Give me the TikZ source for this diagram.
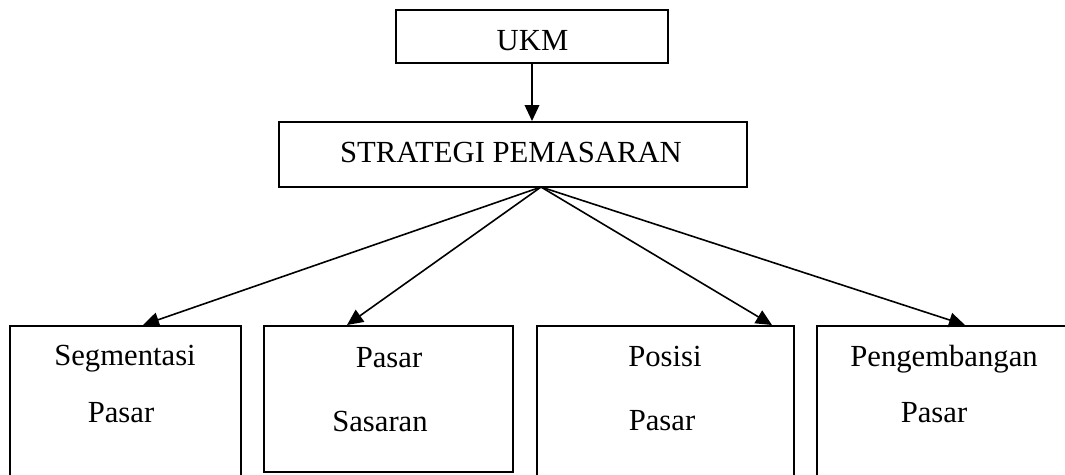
\documentclass[tikz,border=0pt]{standalone}
\usepackage{fontspec}
\setmainfont{Liberation Serif}
\usetikzlibrary{arrows.meta,fit}
\begin{document}
\begin{tikzpicture}[x=0.375pt,y=-0.375pt,
  box/.style={draw,line width=0.75pt,inner sep=0pt},
  lbl/.style={anchor=base,inner sep=0pt,font=\fontsize{11.5}{14}\selectfont},
  arr/.style={line width=0.6pt,-{Triangle[length=6pt,width=5.5pt]}}]
\useasboundingbox (0,0) rectangle (1065,474);
\clip (0,0) rectangle (1065,474);
% top boxes
\node[box,fit={(396,10) (668,63)}] (ukm) {};
\node[lbl] (ukmt) at (532.5,50) {UKM};
\node[box,fit={(279,122) (747,187)}] (sp) {};
\node[lbl] (spt) at (511,162) {STRATEGI PEMASARAN};
% bottom boxes
\node[box,fit={(10,326) (241,490)}] (b1) {};
\node[box,fit={(264,326) (513,472)}] (b2) {};
\node[box,fit={(537,326) (794,490)}] (b3) {};
\node[box,fit={(817,326) (1090,490)}] (b4) {};
\node[lbl] (b1a) at (125,365) {Segmentasi};
\node[lbl] (b1b) at (121,422) {Pasar};
\node[lbl] (b2a) at (389,367) {Pasar};
\node[lbl] (b2b) at (380,431) {Sasaran};
\node[lbl] (b3a) at (665,366) {Posisi};
\node[lbl] (b3b) at (662,430) {Pasar};
\node[lbl] (b4a) at (944,366) {Pengembangan};
\node[lbl] (b4b) at (934,422) {Pasar};
% connectors
\coordinate (f) at (541,187);
\coordinate (t1) at (143,325);
\coordinate (t2) at (347,325);
\coordinate (t3) at (772,325);
\coordinate (t4) at (965,325);
\draw[arr] (ukm.south) -- (ukm.south |- sp.north);
\draw[arr] (f) -- (t1);
\draw[arr] (f) -- (t2);
\draw[arr] (f) -- (t3);
\draw[arr] (f) -- (t4);
\end{tikzpicture}
\end{document}
